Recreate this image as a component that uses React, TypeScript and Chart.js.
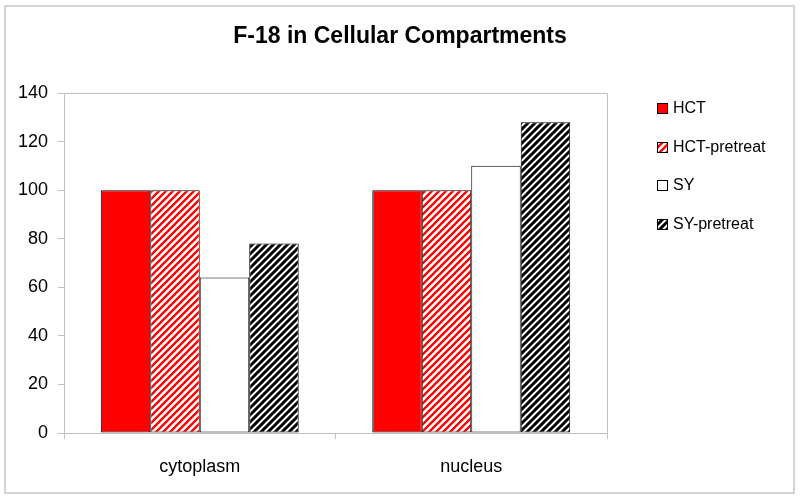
import React, { useEffect, useRef } from "react";
import { Chart, registerables } from "chart.js";

Chart.register(...registerables);

const categories = ["cytoplasm", "nucleus"];
const seriesNames = ["HCT", "HCT-pretreat", "SY", "SY-pretreat"];
const hct = [100, 100];
const hctPretreat = [100, 100];
const sy = [64, 110];
const syPretreat = [78, 128];
const yTicks = [0, 20, 40, 60, 80, 100, 120, 140];
const titleText = "F-18 in Cellular Compartments";

const FONT = "'Liberation Sans', Arial, sans-serif";

function makeStripe(color: string, width: number): CanvasPattern | string {
  const s = 7;
  const c = document.createElement("canvas");
  c.width = s;
  c.height = s;
  const ctx = c.getContext("2d");
  if (!ctx) return color;
  ctx.fillStyle = "#ffffff";
  ctx.fillRect(0, 0, s, s);
  ctx.strokeStyle = color;
  ctx.lineWidth = width;
  ctx.lineCap = "square";
  ctx.beginPath();
  ctx.moveTo(-1, s + 1);
  ctx.lineTo(s + 1, -1);
  ctx.moveTo(-1, 1);
  ctx.lineTo(1, -1);
  ctx.moveTo(s - 1, s + 1);
  ctx.lineTo(s + 1, s - 1);
  ctx.stroke();
  const p = ctx.createPattern(c, "repeat");
  return p || color;
}

export default function App() {
  const ref = useRef<HTMLCanvasElement>(null);

  useEffect(() => {
    if (!ref.current) return;
    const redStripe = makeStripe("#ff0000", 2.3);
    const blackStripe = makeStripe("#000000", 3.0);

    const frame = {
      id: "frame",
      beforeDraw(chart: any) {
        const ctx = chart.ctx;
        ctx.save();
        ctx.fillStyle = "#ffffff";
        ctx.fillRect(0, 0, chart.width, chart.height);
        ctx.strokeStyle = "#d4d4d4";
        ctx.lineWidth = 2;
        ctx.strokeRect(5, 6, 789, 487);
        ctx.fillStyle = "#000000";
        ctx.font = `bold 23px ${FONT}`;
        ctx.textAlign = "center";
        ctx.textBaseline = "middle";
        ctx.fillText(titleText, 400, 37);
        ctx.restore();
      },
      afterDatasetsDraw(chart: any) {
        const ctx = chart.ctx;
        const a = chart.chartArea;
        ctx.save();
        ctx.strokeStyle = "#c0c0c0";
        ctx.lineWidth = 1;
        ctx.beginPath();
        ctx.moveTo(Math.round(a.left) + 0.5, Math.round(a.top) + 0.5);
        ctx.lineTo(Math.round(a.right) + 0.5, Math.round(a.top) + 0.5);
        ctx.lineTo(Math.round(a.right) + 0.5, Math.round(a.bottom) + 0.5);
        ctx.stroke();
        ctx.restore();
      },
      afterDraw(chart: any) {
        const ctx = chart.ctx;
        ctx.save();
        ctx.font = `16px ${FONT}`;
        ctx.textBaseline = "middle";
        ctx.textAlign = "left";
        chart.data.datasets.forEach((ds: any, i: number) => {
          const y = 108 + i * 38.5;
          ctx.fillStyle = ds.backgroundColor;
          ctx.fillRect(657.5, Math.round(y - 5) + 0.5, 10, 10);
          ctx.strokeStyle = "#000000";
          ctx.lineWidth = 1;
          ctx.strokeRect(657.5, Math.round(y - 5) + 0.5, 10, 10);
          ctx.fillStyle = "#000000";
          ctx.fillText(ds.label, 673, y + 1);
        });
        ctx.restore();
      },
    };

    const mk = (label: string, data: number[], bg: any) => ({
      label,
      data,
      backgroundColor: bg,
      borderColor: "#000000",
      borderWidth: 1,
      borderSkipped: false,
      categoryPercentage: 0.729,
      barPercentage: 1.0,
    });

    const chart = new Chart(ref.current, {
      type: "bar",
      data: {
        labels: categories,
        datasets: [
          mk(seriesNames[0], hct, "#ff0000"),
          mk(seriesNames[1], hctPretreat, redStripe),
          mk(seriesNames[2], sy, "#ffffff"),
          mk(seriesNames[3], syPretreat, blackStripe),
        ] as any,
      },
      options: {
        responsive: false,
        animation: false,
        layout: { padding: { top: 93, left: 0, right: 193, bottom: 0 } },
        plugins: {
          legend: { display: false },
          tooltip: { enabled: false },
          title: { display: false },
        },
        scales: {
          x: {
            offset: true,
            grid: {
              offset: true,
              drawOnChartArea: false,
              drawTicks: true,
              tickLength: 6,
              color: "#c0c0c0",
            },
            border: { display: true, color: "#c0c0c0", width: 1 },
            ticks: {
              color: "#000000",
              font: { family: FONT, size: 18 },
              padding: 17,
              maxRotation: 0,
            },
            afterFit(scale: any) {
              scale.height = 66;
            },
          },
          y: {
            min: 0,
            max: 140,
            afterBuildTicks(scale: any) {
              scale.ticks = yTicks.map((v) => ({ value: v }));
            },
            grid: {
              drawOnChartArea: false,
              drawTicks: true,
              tickLength: 6,
              color: "#c0c0c0",
            },
            border: { display: true, color: "#c0c0c0", width: 1 },
            ticks: {
              color: "#000000",
              font: { family: FONT, size: 18 },
              padding: 10,
            },
            afterFit(scale: any) {
              scale.width = 64;
            },
          },
        },
      },
      plugins: [frame],
    } as any);

    return () => chart.destroy();
  }, []);

  return (
    <div style={{ position: "absolute", left: 0, top: 0, width: 800, height: 499, background: "#fff" }}>
      <canvas ref={ref} width={800} height={499} style={{ display: "block" }} />
    </div>
  );
}
